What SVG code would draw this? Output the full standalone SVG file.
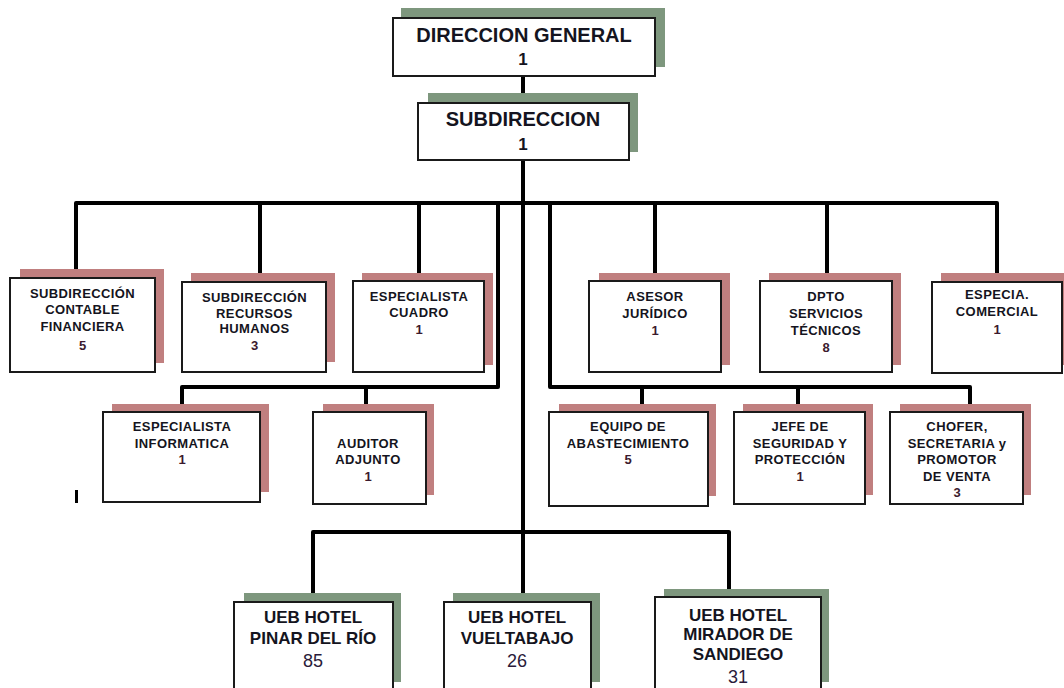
<svg xmlns="http://www.w3.org/2000/svg" width="1064" height="688" viewBox="0 0 1064 688">
<style>
.bg{fill:#ffffff}
.box{fill:#ffffff;stroke:#1a1a1a;stroke-width:2}
.shp{fill:#c07f7f}
.shg{fill:#7e977e}
.conn{fill:none;stroke:#000000;stroke-width:4;stroke-linejoin:round;stroke-linecap:butt}
text{font-family:"Liberation Sans",Arial,sans-serif;text-anchor:middle;fill:#141420}
.big{font-size:20px;font-weight:bold}
.bignum{font-size:17px;font-weight:bold}
.sm{font-size:13px;font-weight:bold;letter-spacing:0.4px}
.smn{font-size:13px;font-weight:bold;fill:#3b1a2e}
.md{font-size:17px;font-weight:bold}
.mdn{font-size:18px;fill:#2a1a3a}
</style>
<rect class="bg" x="0" y="0" width="1064" height="688"/>

<g id="connectors">
  <path class="conn" d="M523,76 V103"/>
  <path class="conn" d="M523,160 V602"/>
  <path class="conn" d="M76,278 V203 H997 V282"/>
  <path class="conn" d="M260,203 V282"/>
  <path class="conn" d="M419,203 V281"/>
  <path class="conn" d="M655,203 V281"/>
  <path class="conn" d="M827,203 V281"/>
  <path class="conn" d="M498,203 V387 H182 V412"/>
  <path class="conn" d="M366,387 V412"/>
  <path class="conn" d="M550,203 V387 H970 V412"/>
  <path class="conn" d="M642,387 V412"/>
  <path class="conn" d="M798,387 V412"/>
  <path class="conn" d="M313,602 V532 H729 V597"/>
</g>

<g id="direccion-general">
  <rect class="shg" x="401" y="8" width="264" height="59"/>
  <rect class="box" x="393" y="18" width="262" height="58"/>
  <text class="big" x="524" y="42">DIRECCION GENERAL</text>
  <text class="bignum" x="523" y="65">1</text>
</g>

<g id="subdireccion">
  <rect class="shg" x="428" y="93" width="210" height="59"/>
  <rect class="box" x="418" y="103" width="211" height="57"/>
  <text class="big" x="523" y="126">SUBDIRECCION</text>
  <text class="bignum" x="523" y="150">1</text>
</g>

<g id="sub-contable">
  <rect class="shp" x="20" y="269" width="144" height="94"/>
  <rect class="box" x="10" y="278" width="145" height="94"/>
  <text class="sm" x="82.5" y="298">SUBDIRECCIÓN</text>
  <text class="sm" x="82.5" y="314">CONTABLE</text>
  <text class="sm" x="82.5" y="331">FINANCIERA</text>
  <text class="smn" x="82.5" y="350">5</text>
</g>

<g id="sub-rrhh">
  <rect class="shp" x="191" y="273" width="144" height="89"/>
  <rect class="box" x="182" y="282" width="144" height="90"/>
  <text class="sm" x="254.5" y="302">SUBDIRECCIÓN</text>
  <text class="sm" x="254.5" y="318">RECURSOS</text>
  <text class="sm" x="254.5" y="333">HUMANOS</text>
  <text class="smn" x="254.5" y="350">3</text>
</g>

<g id="especialista-cuadro">
  <rect class="shp" x="362" y="273" width="131" height="92"/>
  <rect class="box" x="353" y="281" width="131" height="91"/>
  <text class="sm" x="419" y="301">ESPECIALISTA</text>
  <text class="sm" x="419" y="317">CUADRO</text>
  <text class="smn" x="419" y="334">1</text>
</g>

<g id="asesor-juridico">
  <rect class="shp" x="599" y="273" width="131" height="92"/>
  <rect class="box" x="589" y="281" width="132" height="91"/>
  <text class="sm" x="655" y="301">ASESOR</text>
  <text class="sm" x="655" y="318">JURÍDICO</text>
  <text class="smn" x="655" y="335">1</text>
</g>

<g id="dpto-servicios">
  <rect class="shp" x="769" y="273" width="132" height="92"/>
  <rect class="box" x="760" y="281" width="132" height="91"/>
  <text class="sm" x="826" y="301">DPTO</text>
  <text class="sm" x="826" y="318">SERVICIOS</text>
  <text class="sm" x="826" y="335">TÉCNICOS</text>
  <text class="smn" x="826" y="352">8</text>
</g>

<g id="especia-comercial">
  <rect class="shp" x="941" y="273" width="125" height="92"/>
  <rect class="box" x="932" y="282" width="130" height="91"/>
  <text class="sm" x="997" y="299">ESPECIA.</text>
  <text class="sm" x="997" y="316">COMERCIAL</text>
  <text class="smn" x="997" y="334">1</text>
</g>

<g id="especialista-informatica">
  <rect class="shp" x="112" y="404" width="157" height="88"/>
  <rect class="box" x="103" y="412" width="157" height="90"/>
  <text class="sm" x="182" y="431">ESPECIALISTA</text>
  <text class="sm" x="182" y="448">INFORMATICA</text>
  <text class="smn" x="182" y="464">1</text>
</g>

<g id="auditor-adjunto">
  <rect class="shp" x="323" y="404" width="111" height="91"/>
  <rect class="box" x="313" y="412" width="113" height="92"/>
  <text class="sm" x="368" y="448">AUDITOR</text>
  <text class="sm" x="368" y="464">ADJUNTO</text>
  <text class="smn" x="368" y="481">1</text>
</g>

<g id="equipo-abastecimiento">
  <rect class="shp" x="559" y="404" width="157" height="92"/>
  <rect class="box" x="549" y="412" width="159" height="94"/>
  <text class="sm" x="628" y="431">EQUIPO  DE</text>
  <text class="sm" x="628" y="448">ABASTECIMIENTO</text>
  <text class="smn" x="628" y="464">5</text>
</g>

<g id="jefe-seguridad">
  <rect class="shp" x="743" y="404" width="130" height="91"/>
  <rect class="box" x="734" y="412" width="131" height="92"/>
  <text class="sm" x="800" y="431">JEFE  DE</text>
  <text class="sm" x="800" y="448">SEGURIDAD  Y</text>
  <text class="sm" x="800" y="464">PROTECCIÓN</text>
  <text class="smn" x="800" y="481">1</text>
</g>

<g id="chofer-secretaria">
  <rect class="shp" x="900" y="404" width="131" height="91"/>
  <rect class="box" x="890" y="412" width="133" height="92"/>
  <text class="sm" x="957" y="431">CHOFER,</text>
  <text class="sm" x="957" y="448">SECRETARIA  y</text>
  <text class="sm" x="957" y="464">PROMOTOR</text>
  <text class="sm" x="957" y="481">DE VENTA</text>
  <text class="smn" x="957" y="497">3</text>
</g>

<rect id="stray-mark" x="75" y="490" width="3" height="13" fill="#000000"/>

<g id="ueb-pinar">
  <rect class="shg" x="244" y="593" width="157" height="89"/>
  <rect class="box" x="234" y="602" width="159" height="100"/>
  <text class="md" x="313" y="623">UEB HOTEL</text>
  <text class="md" x="313" y="644">PINAR DEL RÍO</text>
  <text class="mdn" x="313" y="667">85</text>
</g>

<g id="ueb-vueltabajo">
  <rect class="shg" x="453" y="593" width="147" height="89"/>
  <rect class="box" x="444" y="602" width="147" height="100"/>
  <text class="md" x="517" y="623">UEB HOTEL</text>
  <text class="md" x="517" y="644">VUELTABAJO</text>
  <text class="mdn" x="517" y="667">26</text>
</g>

<g id="ueb-mirador">
  <rect class="shg" x="664" y="589" width="165" height="93"/>
  <rect class="box" x="655" y="597" width="166" height="105"/>
  <text class="md" x="738" y="621">UEB HOTEL</text>
  <text class="md" x="738" y="640">MIRADOR DE</text>
  <text class="md" x="738" y="660">SANDIEGO</text>
  <text class="mdn" x="738" y="683">31</text>
</g>
</svg>
